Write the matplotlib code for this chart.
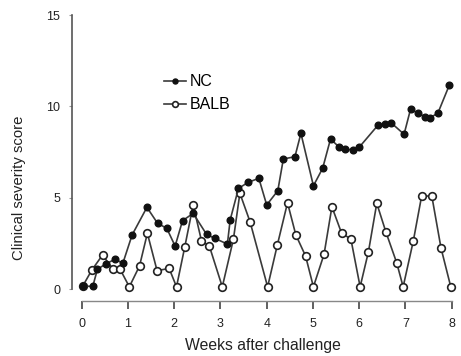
import matplotlib
matplotlib.use("Agg")
import matplotlib.pyplot as plt

plt.rcParams['font.family'] = ['Liberation Sans', 'DejaVu Sans']

# NC group (filled circles)
nc_weeks = [0.02, 0.24, 0.34, 0.52, 0.72, 0.89, 1.09, 1.41, 1.64, 1.84, 2.02,
            2.18, 2.41, 2.70, 2.88, 3.15, 3.21, 3.39, 3.60, 3.83, 4.00, 4.24,
            4.36, 4.61, 4.74, 5.01, 5.21, 5.38, 5.57, 5.69, 5.86, 6.00, 6.41,
            6.56, 6.69, 6.97, 7.11, 7.28, 7.42, 7.53, 7.70, 7.95]
nc_score = [0.15, 0.15, 1.08, 1.37, 1.63, 1.41, 2.96, 4.47, 3.60, 3.32, 2.35,
            3.74, 4.14, 2.99, 2.77, 2.46, 3.78, 5.51, 5.84, 6.06, 4.60, 5.38,
            7.12, 7.24, 8.52, 5.65, 6.61, 8.21, 7.76, 7.66, 7.61, 7.76, 8.98,
            9.01, 9.10, 8.47, 9.84, 9.62, 9.43, 9.38, 9.62, 11.17]

# BALB group (open circles)
balb_weeks = [0.02, 0.22, 0.45, 0.68, 0.83, 1.03, 1.25, 1.42, 1.63, 1.89, 2.05,
              2.23, 2.41, 2.59, 2.76, 3.04, 3.28, 3.42, 3.64, 4.02, 4.23, 4.45,
              4.63, 4.84, 5.01, 5.24, 5.41, 5.62, 5.82, 6.02, 6.20, 6.38, 6.58,
              6.81, 6.95, 7.17, 7.35, 7.57, 7.77, 7.98]
balb_score = [0.15, 1.04, 1.86, 1.08, 1.08, 0.12, 1.26, 3.05, 1.00, 1.13, 0.12,
              2.32, 4.60, 2.64, 2.35, 0.12, 2.72, 5.24, 3.68, 0.12, 2.41, 4.72,
              2.96, 1.81, 0.12, 1.90, 4.50, 3.05, 2.74, 0.12, 2.04, 4.69, 3.10,
              1.44, 0.12, 2.63, 5.09, 5.09, 2.23, 0.12]

x_ticks = [0, 1, 2, 3, 4, 5, 6, 7, 8]
y_ticks = [0, 5, 10, 15]

W, H = 461, 356
fig = plt.figure(figsize=(W / 100, H / 100), dpi=100)
ax = fig.add_axes([81.7 / W, (H - 289) / H, 370 / W, 274 / H])

line_col = '#3a3a3a'
ax.plot(balb_weeks, balb_score, color=line_col, lw=1.2, marker='o', ms=5.5,
        mfc='white', mec='#222222', mew=1.2, clip_on=False, label='BALB', zorder=3)
ax.plot(nc_weeks, nc_score, color=line_col, lw=1.2, marker='o', ms=4.8,
        mfc='#111111', mec='#111111', clip_on=False, label='NC', zorder=4)

ax.set_xlim(0, 8)
ax.set_ylim(0, 15)
ax.set_xticks(x_ticks)
ax.set_yticks(y_ticks)

for s in ['top', 'right']:
    ax.spines[s].set_visible(False)
ax.spines['left'].set_position(('outward', 7))
ax.spines['bottom'].set_position(('outward', 8.6))
ax.spines['left'].set_color('#555555')
ax.spines['bottom'].set_color('#888888')
ax.spines['left'].set_linewidth(1.2)
ax.spines['bottom'].set_linewidth(1.0)
ax.tick_params(axis='x', direction='out', length=6, width=1.2, color='#444444',
               labelsize=9, pad=6, labelcolor='#222222')
ax.tick_params(axis='y', direction='out', length=2, width=0.8, color='#999999',
               labelsize=9, pad=6.5, labelcolor='#222222')

ax.set_xlabel('Weeks after challenge', fontsize=11.3, color='#222222')
ax.set_ylabel('Clinical severity score', fontsize=10.7, color='#222222')
ax.xaxis.set_label_coords(0.49, -0.18)
ax.yaxis.set_label_coords(-0.15, 0.37)

handles, labels = ax.get_legend_handles_labels()
ax.legend(handles[::-1], labels[::-1], loc='upper left', frameon=False,
          bbox_to_anchor=(0.2055, 0.807), fontsize=11.5, handlelength=1.4,
          handletextpad=0.2, labelspacing=0.5, borderaxespad=0,
          markerscale=0.75)

fig.savefig('out.png', dpi=100)
